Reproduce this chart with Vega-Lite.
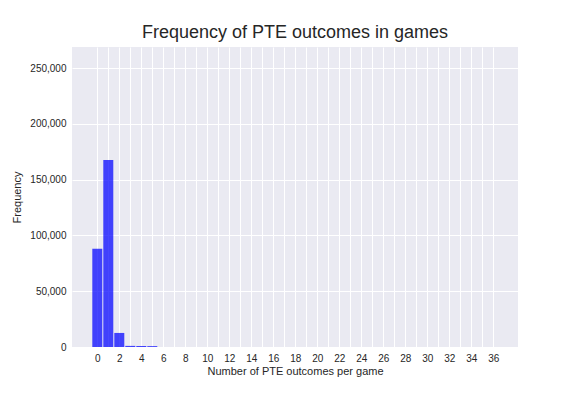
{
  "$schema": "https://vega.github.io/schema/vega-lite/v6.json",
  "width": 446,
  "height": 300,
  "autosize": {"type": "none"},
  "padding": {"left": 72, "top": 47, "right": 58, "bottom": 49},
  "background": "white",
  "title": {"text": "Frequency of PTE outcomes in games", "fontSize": 18, "font": "Liberation Sans", "fontWeight": "normal", "color": "#262626", "offset": 5, "anchor": "middle"},
  "config": {
    "view": {"fill": "#EAEAF2", "stroke": null},
    "axis": {"gridColor": "white", "gridWidth": 1, "gridOpacity": 1, "domain": false, "ticks": false, "labelFont": "Liberation Sans", "labelFontSize": 10, "labelColor": "#262626", "titleFont": "Liberation Sans", "titleFontSize": 11, "titleFontWeight": "normal", "titleColor": "#262626", "labelPadding": 6}
  },
  "data": {"values": [
    {"outcomes": 0, "frequency": 88000},
    {"outcomes": 1, "frequency": 167700},
    {"outcomes": 2, "frequency": 12600},
    {"outcomes": 3, "frequency": 1000},
    {"outcomes": 4, "frequency": 900},
    {"outcomes": 5, "frequency": 800}
  ]},
  "mark": {"type": "bar", "size": 10, "color": "#0000FF", "opacity": 0.72},
  "encoding": {
    "x": {"field": "outcomes", "type": "quantitative", "title": "Number of PTE outcomes per game",
      "scale": {"domain": [-2.3, 38.25], "nice": false, "zero": false, "padding": 0},
      "axis": {"values": [0,1,2,3,4,5,6,7,8,9,10,11,12,13,14,15,16,17,18,19,20,21,22,23,24,25,26,27,28,29,30,31,32,33,34,35,36], "labelExpr": "datum.value % 2 == 0 ? datum.label : ''", "titlePadding": 2}},
    "y": {"field": "frequency", "type": "quantitative", "title": "Frequency",
      "scale": {"domain": [0, 269000], "nice": false, "padding": 0},
      "axis": {"values": [0, 50000, 100000, 150000, 200000, 250000], "format": ",.0f", "titlePadding": 7}}
  }
}
